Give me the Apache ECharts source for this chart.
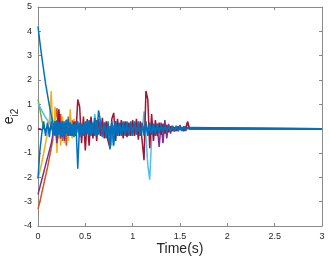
<!DOCTYPE html>
<html lang="en">
<head>
    <meta charset="UTF-8">
    <title>Error e_i2</title>
    <style>
        html, body { margin: 0; padding: 0; background: #fff; }
        #chart { width: 330px; height: 260px; }
    </style>
</head>
<body>
<div id="chart"></div>

<script src="https://cdn.jsdelivr.net/npm/echarts/dist/echarts.min.js"></script>
<script>
// samples every 0.02 s from 0 to 1.6 s, then flat zero until 3 s
const dt = 0.02;
const tEnd = 3;
const xTicks = [0, 0.5, 1, 1.5, 2, 2.5, 3];
const yTicks = [-4, -3, -2, -1, 0, 1, 2, 3, 4, 5];

const blueA = [
    4.2, 3.55, 2.95, 2.4, 1.85, 1.4, 0.95, 0.55, 0.2, -0.3,
    0.35, -0.25, 0.3, -0.35, 0.25, -0.2, 0.4, -0.3, 0.2, -0.35,
    0.3, -1.65, 0.25, -0.3, 0.2, -0.25, 0.3, -0.3, 0.25, -0.2,
    0.45, -0.3, 0.75, 0.3, -0.35, 0.25, -0.4, 0.3, -0.85, 0.2,
    -0.7, 0.3, -0.3, 0.25, -0.25, 0.3, -0.3, 0.2, -0.25, 0.3,
    -0.3, 0.25, -0.2, 0.3, -0.3, 0.2, -0.25, 0.3, -0.3, 0.25,
    -0.25, 0.2, -0.2, 0.15, -0.2, 0.15, -0.15, 0.12, -0.15, 0.1,
    -0.12, 0.1, -0.1, 0.12, -0.08, 0.15, -0.1, 0.08, -0.05, 0.05, 0
];
const blueB = [
    -2.05, -0.9, -0.2, 0.3, -0.3, 0.25, -0.35, 0.3, -0.25, 0.3,
    -0.3, 0.25, -0.3, 0.3, -0.25, 0.35, -0.3, 0.25, -0.3, 0.2,
    -0.25, 0.3, -0.35, 0.2, -0.3, 0.3, -0.2, 0.35, -0.3, 0.25,
    -0.3, 0.35, -0.25, 0.3, -0.3, 0.25, -0.35, 0.2, -0.3, 0.3,
    -0.25, 0.3, -0.3, 0.2, -0.3, 0.25, -0.2, 0.3, -0.3, 0.25,
    -0.2, 0.3, -0.25, 0.2, -0.3, 0.25, -0.2, 0.2, -0.25, 0.2,
    -0.2, 0.15, -0.15, 0.2, -0.12, 0.15, -0.1, 0.15, -0.1, 0.12,
    -0.1, 0.08, -0.12, 0.1, -0.1, 0.06, -0.08, 0.1, -0.06, 0.04, 0
];
const orange = [
    -3.3, -3.0, -2.65, -2.3, -1.95, -1.6, -1.2, -0.8, -0.35, 0.3,
    0.85, -0.4, 0.6, -0.5, 0.3, -0.7, 0.5, -0.3, 0.35, -0.25,
    0.2, -0.15, 0.1, -0.2, 0.15, -0.1, 0.2, -0.15, 0.1, -0.1,
    0.15, -0.1, 0.1, -0.15, 0.1, -0.1, 0.15, -0.1, 0.1, -0.05,
    0.1, -0.1, 0.05, -0.1, 0.1, -0.05, 0.1, -0.1, 0.05, -0.05,
    0.1, -0.05, 0.05, -0.1, 0.05, -0.05, 0.1, -0.05, 0.05, -0.05,
    0.05, -0.05, 0.05, 0.2, -0.05, 0.15, -0.05, 0.05, -0.03, 0.03,
    -0.03, 0.03, -0.02, 0.02, -0.02, 0.02, -0.01, 0.01, 0, 0, 0
];
const yellow = [
    -2.05, -1.75, -1.4, -1.0, -0.6, -0.2, 0.3, 1.55, -0.5, 0.9,
    -1.0, 0.6, -0.7, 0.5, -0.6, 0.4, -0.5, 0.8, -0.4, 0.4,
    -0.3, 0.2, -0.2, 0.25, -0.15, 0.2, -0.2, 0.15, -0.1, 0.2,
    -0.15, 0.3, -0.1, 0.15, -0.1, 0.1, -0.15, 0.1, -0.1, 0.15,
    -0.1, 0.1, -0.1, 0.15, -0.1, 0.1, -0.15, 0.1, -0.05, 0.1,
    -0.1, 0.15, -0.1, 0.1, -0.05, 0.1, -0.1, 0.3, -0.2, 0.1,
    -0.1, 0.08, -0.05, 0.1, -0.05, 0.05, 0.2, -0.05, 0.05, -0.05,
    0.05, -0.03, 0.03, -0.03, 0.03, -0.02, 0.02, -0.02, 0.01, 0, 0
];
const purple = [
    -2.7, -2.4, -2.1, -1.8, -1.5, -1.2, -0.9, -0.6, -0.2, 0.3,
    -0.6, 0.5, -0.4, 0.3, -0.5, 0.35, -0.3, 0.25, -0.3, 0.2,
    -0.15, 0.1, -0.1, 0.15, -0.1, 0.1, -0.15, 0.1, -0.1, 0.1,
    -0.1, 0.1, -0.1, 0.1, -0.05, 0.1, -0.1, 0.05, -0.1, 0.1,
    -0.05, 0.1, -0.1, 0.05, -0.05, 0.1, -0.1, 0.05, -0.05, 0.05,
    -0.1, 0.05, -0.05, 0.1, -0.05, 0.05, -0.1, 0.05, -0.05, 0.1,
    -0.1, 0.2, -0.3, 0.1, -0.75, 0.25, -0.6, 0.35, -0.4, 0.2,
    -0.2, 0.1, -0.1, 0.05, -0.05, 0.1, -0.05, 0.1, -0.1, 0.3, 0
];
const green = [
    1.2, 0.8, 0.35, 0.05, -0.1, 0.1, -0.05, 0.1, -0.1, 0.05,
    -0.08, 0.1, -0.1, 0.12, -0.05, 0.08, -0.1, 0.05, -0.08, 0.1,
    -0.05, 0.08, -0.1, 0.1, -0.05, 0.05, -0.08, 0.1, -0.1, 0.15,
    -0.2, 0.2, -0.1, 0.1, -0.05, 0.08, -0.1, 0.05, -0.08, 0.1,
    -0.05, 0.08, -0.1, 0.05, -0.05, 0.08, -0.1, 0.05, -0.08, 0.05,
    -0.05, 0.08, -0.05, 0.05, -0.08, 0.05, -0.3, 0.1, -0.05, 0.05,
    -0.05, 0.05, -0.05, 0.05, -0.03, 0.03, -0.05, 0.03, -0.03, 0.03,
    -0.03, 0.03, -0.02, 0.02, -0.03, 0.02, -0.02, 0.02, -0.01, 0.01, 0
];
const lightBlue = [
    1.05, 0.9, 0.75, 0.6, 0.45, 0.35, 0.2, 0.5, -0.1, 0.3,
    -0.2, 0.15, -0.1, 0.2, -0.15, 0.1, -0.2, 0.15, -0.1, 0.2,
    -0.15, 0.1, -0.2, 0.15, -0.1, 0.2, -0.15, 0.1, 0.45, -0.2,
    0.6, -0.1, 0.3, -0.2, 0.15, -0.1, 0.2, -0.5, 0.1, -0.7,
    0.15, -0.2, 0.1, -0.15, 0.2, -0.1, 0.15, -0.2, 0.1, -0.15,
    0.2, -0.1, 0.15, -0.2, 0.1, -0.15, 0.7, -0.3, -1.5, -2.1,
    -0.4, 0.15, -0.1, 0.1, -0.1, 0.08, -0.1, 0.1, -0.08, 0.1,
    -0.05, 0.15, -0.05, 0.05, -0.1, 0.05, 0.1, -0.05, 0.05, 0, 0
];
const darkRed = [
    0, 0.05, -0.05, 0.05, -0.1, 0.1, -0.1, 0.15, -0.2, 0.1,
    -0.15, 0.8, -0.2, 0.15, -0.2, 0.2, -0.3, 0.2, -0.25, 0.3,
    -0.3, 1.2, 0.9, -0.6, 0.5, -0.9, 0.4, -0.7, 0.5, -0.4,
    0.35, -0.5, 0.4, -0.3, 0.45, -0.4, 0.3, -0.5, -0.8, 0.4,
    0.65, -0.5, 0.4, -0.3, 0.35, -0.4, 0.3, -0.35, 0.25, -0.3,
    0.35, -0.3, 0.4, -0.45, 0.3, -0.5, -1.3, 1.55, 1.2, -0.8,
    0.6, -0.5, 0.35, -0.3, 0.25, -0.25, 0.2, -0.2, 0.15, -0.15,
    0.1, -0.1, 0.05, -0.1, 0.1, -0.05, 0.05, -0.1, 0.05, 0.25, 0
];

// drawing order: last one ends up on top
const seriesList = [
    { name: 'e5', values: green, color: '#77AC30' },
    { name: 'e6', values: lightBlue, color: '#4DBEEE' },
    { name: 'e2', values: orange, color: '#D95319' },
    { name: 'e3', values: yellow, color: '#EDB120' },
    { name: 'e4', values: purple, color: '#7E2F8E' },
    { name: 'e7', values: darkRed, color: '#A2142F' },
    { name: 'e8', values: blueB, color: '#0072BD' },
    { name: 'e1', values: blueA, color: '#0072BD' }
];

function toPoints(values) {
    const pts = values.map((v, i) => [+(i * dt).toFixed(2), v]);
    pts.push([tEnd, 0]);
    return pts;
}

const font = "'Liberation Sans', Arial, sans-serif";
const frameColor = '#8a8a8a';
const textColor = '#262626';

const chart = echarts.init(document.getElementById('chart'), null, { renderer: 'canvas' });

const option = {
    animation: false,
    backgroundColor: '#fff',
    grid: { left: 38, right: 8, top: 7, bottom: 34, containLabel: false, outerBoundsMode: 'none' },
    xAxis: [{
        type: 'value',
        min: xTicks[0], max: xTicks[xTicks.length - 1], interval: 0.5,
        name: 'Time(s)',
        nameLocation: 'middle',
        nameGap: 16,
        nameMoveOverlap: false,
        nameTextStyle: { fontFamily: font, fontSize: 14, color: textColor, verticalAlign: 'top' },
        axisLine: { onZero: false, lineStyle: { color: frameColor, width: 1 } },
        axisTick: { inside: true, length: 3, lineStyle: { color: frameColor } },
        axisLabel: { fontFamily: font, fontSize: 9, color: textColor, margin: 6 },
        splitLine: { show: false }
    }, {
        type: 'value', position: 'top',
        min: xTicks[0], max: xTicks[xTicks.length - 1], interval: 0.5,
        axisLine: { onZero: false, lineStyle: { color: frameColor, width: 1 } },
        axisTick: { inside: true, length: 3, lineStyle: { color: frameColor } },
        axisLabel: { show: false },
        splitLine: { show: false }
    }],
    yAxis: [{
        type: 'value',
        min: yTicks[0], max: yTicks[yTicks.length - 1], interval: 1,
        name: '{e|e}{s|i2}',
        nameLocation: 'middle',
        nameRotate: 90,
        nameGap: 22,
        nameMoveOverlap: false,
        nameTextStyle: {
            fontFamily: font, color: textColor,
            rich: {
                e: { fontFamily: font, fontSize: 14, color: textColor, lineHeight: 18, verticalAlign: 'bottom' },
                s: { fontFamily: font, fontSize: 10, color: textColor, lineHeight: 18, verticalAlign: 'bottom', padding: [0, 0, -4, 0] }
            }
        },
        axisLine: { onZero: false, lineStyle: { color: frameColor, width: 1 } },
        axisTick: { inside: true, length: 3, lineStyle: { color: frameColor } },
        axisLabel: { fontFamily: font, fontSize: 9, color: textColor, margin: 6 },
        splitLine: { show: false }
    }, {
        type: 'value', position: 'right',
        min: yTicks[0], max: yTicks[yTicks.length - 1], interval: 1,
        axisLine: { show: true, onZero: false, lineStyle: { color: frameColor, width: 1 } },
        axisTick: { show: true, inside: true, length: 3, lineStyle: { color: frameColor } },
        axisLabel: { show: false },
        splitLine: { show: false }
    }],
    series: seriesList.map(s => ({
        name: s.name,
        type: 'line',
        data: toPoints(s.values),
        showSymbol: false,
        lineStyle: { color: s.color, width: 1.5 },
        itemStyle: { color: s.color },
        clip: true
    }))
};

chart.setOption(option);
window.addEventListener('resize', function () { chart.resize(); });
</script>
</body>
</html>
